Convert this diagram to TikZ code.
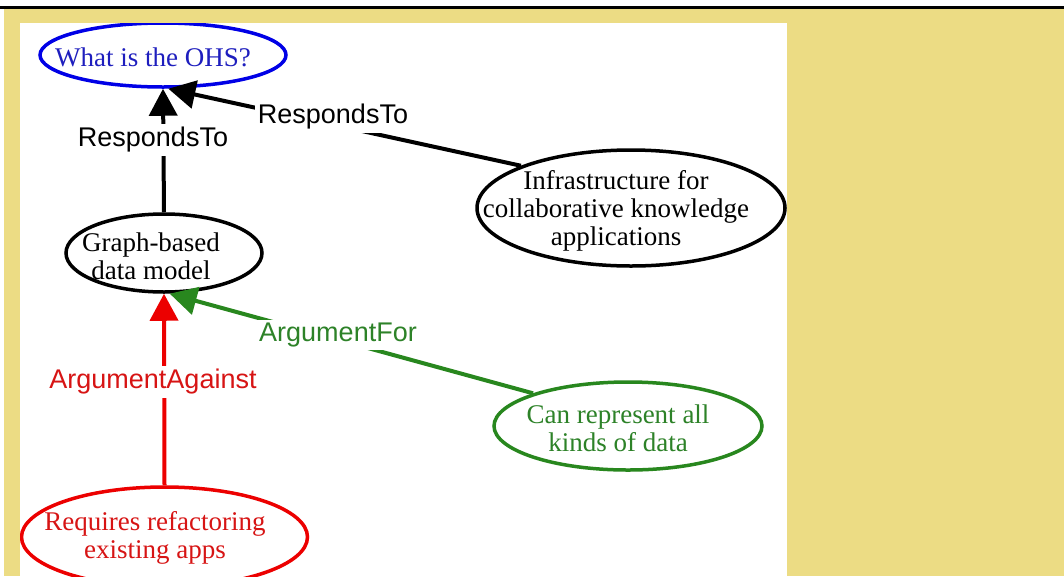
\documentclass[tikz,border=0pt]{standalone}
\usepackage{fontspec}
\setmainfont{Liberation Serif}
\newfontfamily\labelfont{Liberation Sans}
\usetikzlibrary{arrows.meta,shapes.geometric}
\definecolor{khaki}{RGB}{236,220,132}
\definecolor{ohsblue}{RGB}{0,0,230}
\definecolor{ohsbluetext}{RGB}{30,30,190}
\definecolor{argred}{RGB}{236,0,0}
\definecolor{argredtext}{RGB}{215,20,20}
\definecolor{arggreen}{RGB}{40,135,30}
\definecolor{arggreentext}{RGB}{45,130,40}
\tikzset{
  issue/.style={ellipse, draw, line width=3.5pt, inner sep=0pt},
  issuetext/.style={inner sep=0pt, align=center, font=\fontsize{27}{28}\selectfont},
  link/.style={line width=4pt, -{Triangle[length=27pt,width=28pt]}},
  linklabel/.style={fill=white, inner sep=3pt, font=\labelfont\fontsize{27}{28}\selectfont}
}
\begin{document}
\begin{tikzpicture}[x=1pt,y=-1pt]
\useasboundingbox (0,0) rectangle (1064,576);
\fill[white] (0,0) rectangle (1064,576);
\fill[khaki] (4,8) rectangle (1064,576);
\draw[line width=3pt] (0,7.5) -- (1064,7.5);
\fill[white] (20,23) rectangle (787,576);
\begin{scope}
\clip (20,23) rectangle (787,576);
\node[issue, draw=ohsblue, minimum width=246pt, minimum height=64pt] (ohs) at (163,55) {};
\node[issuetext, text=ohsbluetext] (ohst) at (153,57) {What is the OHS?};
\node[issue, draw=black, minimum width=196pt, minimum height=78pt] (graph) at (164,253) {};
\node[issuetext, text=black] (grapht) at (151,256) {Graph-based\\data model};
\node[issue, draw=black, minimum width=308pt, minimum height=116pt] (infra) at (631,208) {};
\node[issuetext, text=black] (infrat) at (616,211) {Infrastructure for\\collaborative knowledge\\applications};
\node[issue, draw=arggreen, minimum width=268pt, minimum height=88pt] (repr) at (628,426) {};
\node[issuetext, text=arggreentext] (reprt) at (618,428) {Can represent all\\kinds of data};
\node[issue, draw=argred, minimum width=286pt, minimum height=100pt] (refac) at (164.5,537) {};
\node[issuetext, text=argredtext] (refact) at (155,538) {Requires refactoring\\existing apps};

\draw[link, black] (graph.north) -- (ohs.south);
\draw[link, black] (infra.159) -- (ohs.-81);
\draw[link, arggreen] (repr.161) -- (graph.-82);
\draw[link, argred] (refac.north) -- (graph.south);

\node[linklabel, text=black] (l1) at (153,140) {RespondsTo};
\node[linklabel, text=black] (l2) at (333,117) {RespondsTo};
\node[linklabel, text=arggreentext] (l3) at (338,335) {ArgumentFor};
\node[linklabel, text=argredtext] (l4) at (153,382) {ArgumentAgainst};
\end{scope}
\end{tikzpicture}
\end{document}
